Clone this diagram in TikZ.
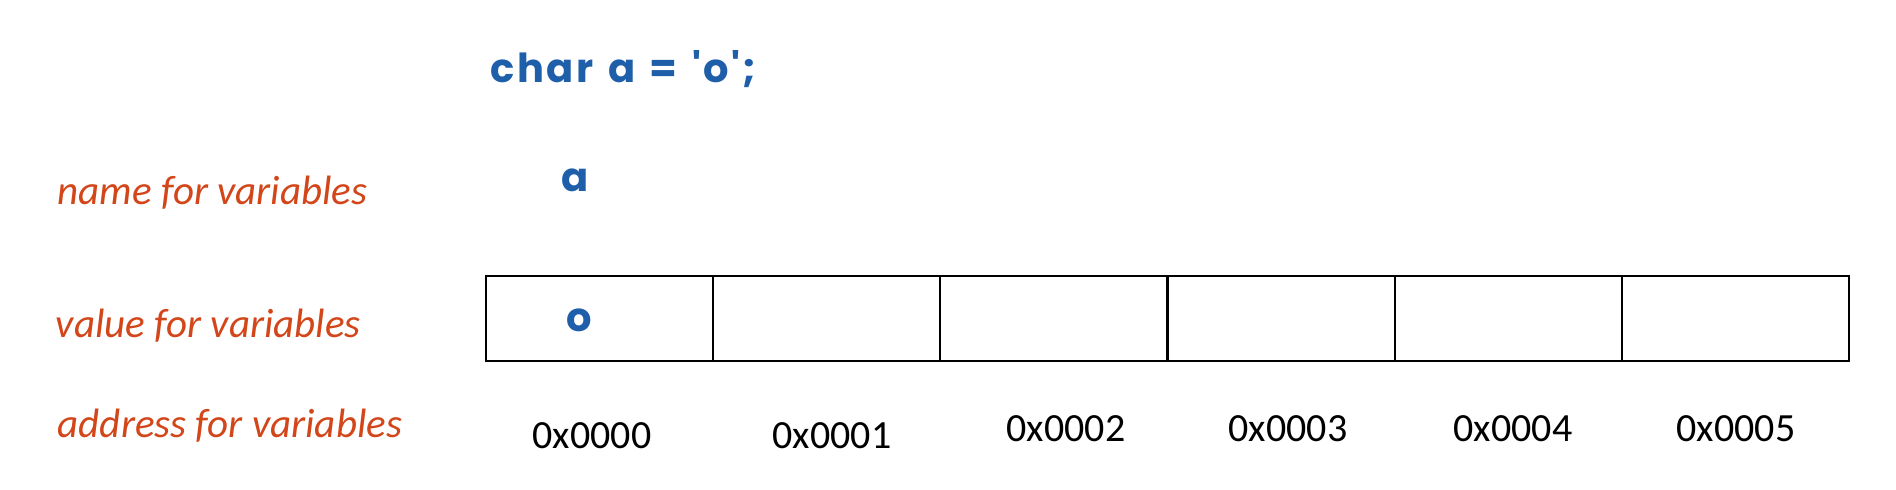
\documentclass[tikz,border=0pt]{standalone}
\usepackage{fontspec}
\setmainfont{Carlito}
\newfontfamily\codefont{Poppins}[LetterSpace=6,WordSpace=1.35]
\usepackage{xcolor}
\usepackage{tikz}
\usetikzlibrary{positioning}
\definecolor{labelorange}{HTML}{D2461A}
\definecolor{codeblue}{HTML}{1F5FAA}

\begin{document}
\begin{tikzpicture}[x=0.25pt,y=-0.25pt,
    rowlabel/.style={anchor=base west,inner sep=0,text=labelorange,font=\fontsize{10.25}{12}\selectfont\itshape},
    codetext/.style={inner sep=0,text=codeblue,font=\fontsize{10}{12}\selectfont\codefont\bfseries},
    cell/.style={draw,line width=0.5pt,anchor=north west,inner sep=0,outer sep=0,minimum width=56.75pt,minimum height=21.25pt},
    addr/.style={anchor=base,inner sep=0,font=\fontsize{10}{12}\selectfont}]
    \useasboundingbox (0,0) rectangle (1896,490);
    % declaration
    \node[codetext,anchor=base west] (decl) at (490,83) {char a = 'o';};
    % row labels
    \node[rowlabel] (namelbl) at (57,205) {name for variables};
    \node[rowlabel] (valuelbl) at (55,338) {value for variables};
    \node[rowlabel] (addrlbl) at (57,438) {address for variables};
    % memory cells
    \foreach \i/\ax/\ay in {0/592/449,1/832/449,2/1066/442,3/1288/442,4/1513/442,5/1736/442}{
      \node[cell] (cell\i) at ({486+\i*227.2},276) {};
      \node[addr] (addr\i) at (\ax,\ay) {0x000\i};
    }
    % name and value
    \node[codetext,anchor=base] (varname) at (575,192) {a};
    \node[codetext,anchor=base] (varvalue) at (579,332) {o};
  \end{tikzpicture}
\end{document}
